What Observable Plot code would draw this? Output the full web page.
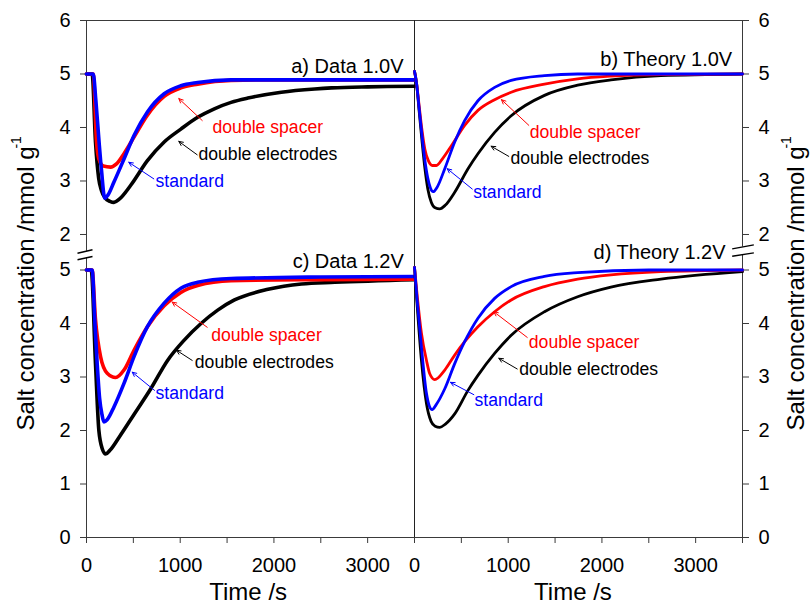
<!DOCTYPE html>
<html><head><meta charset="utf-8">
<script src="https://cdn.jsdelivr.net/npm/d3@7"></script>
<script src="https://cdn.jsdelivr.net/npm/@observablehq/plot@0.6"></script>
<style>
body{margin:0;background:#fff}
#chart svg{font-family:"Liberation Sans",Arial,sans-serif;display:block}
</style>
</head><body><div id="chart"></div>
<script>
// ---- layout constants of the broken/paneled axes (data units) ----
const OFF = 3.664;   // shift of the upper (1.0 V) half on the broken y axis
const SPAN = 3500;   // time span of each panel, s

const seriesNames = ["double electrodes", "double spacer", "standard"];
const seriesColors = ["#000000", "#ff0000", "#0000ff"];

// ---- a) Data 1.0V ----
const a_elec_t = [0, 60, 96, 130, 160, 200, 250, 293, 350, 472, 650, 829, 1007, 1186, 1364, 1543, 1722, 2079, 2436, 2615, 3000, 3500];
const a_elec_v = [5.0, 5.0, 3.73, 3.05, 2.82, 2.68, 2.62, 2.60, 2.66, 2.92, 3.38, 3.73, 3.97, 4.19, 4.35, 4.47, 4.55, 4.66, 4.72, 4.74, 4.76, 4.77];
const a_spac_t = [0, 72, 107, 130, 180, 257, 320, 400, 507, 650, 829, 1007, 1186, 1543, 2000, 3500];
const a_spac_v = [5.0, 5.0, 3.73, 3.42, 3.28, 3.26, 3.32, 3.51, 3.82, 4.23, 4.58, 4.74, 4.81, 4.88, 4.89, 4.89];
const a_std_t = [0, 72, 100, 134, 160, 195, 230, 293, 400, 507, 650, 829, 1007, 1186, 1543, 2000, 3500];
const a_std_v = [5.0, 5.0, 4.5, 3.73, 3.2, 2.68, 2.74, 2.98, 3.41, 3.85, 4.29, 4.63, 4.78, 4.84, 4.89, 4.89, 4.89];

// ---- b) Theory 1.0V ----
const b_elec_t = [0, 20, 50, 80, 110, 142, 180, 220, 270, 330, 429, 571, 677, 855, 1032, 1387, 1741, 2096, 2630, 3500];
const b_elec_v = [5.05, 4.85, 4.3, 3.75, 3.25, 2.85, 2.6, 2.5, 2.48, 2.55, 2.79, 3.23, 3.51, 3.91, 4.22, 4.60, 4.79, 4.89, 4.97, 5.0];
const b_spac_t = [0, 20, 50, 80, 110, 150, 190, 234, 300, 394, 535, 677, 855, 1032, 1387, 1741, 2096, 2630, 3500];
const b_spac_v = [5.05, 4.85, 4.4, 3.95, 3.6, 3.37, 3.29, 3.29, 3.42, 3.66, 4.04, 4.32, 4.52, 4.66, 4.81, 4.91, 4.96, 4.99, 5.0];
const b_std_t = [0, 20, 50, 80, 110, 140, 170, 199, 240, 323, 429, 535, 677, 855, 1032, 1387, 1741, 3500];
const b_std_v = [5.05, 4.85, 4.35, 3.85, 3.4, 3.07, 2.87, 2.80, 2.88, 3.23, 3.73, 4.13, 4.50, 4.75, 4.88, 4.97, 5.0, 5.0];

// ---- c) Data 1.2V ----
const c_elec_t = [0, 50, 96, 132, 170, 204, 250, 350, 507, 686, 865, 1043, 1222, 1400, 1579, 1937, 2294, 2650, 3500];
const c_elec_v = [5.0, 5.0, 3.25, 2.0, 1.65, 1.56, 1.63, 1.88, 2.3, 2.78, 3.31, 3.69, 4.00, 4.25, 4.44, 4.64, 4.74, 4.77, 4.82];
const c_spac_t = [0, 60, 96, 150, 221, 311, 400, 507, 650, 829, 1007, 1186, 1543, 2500, 3500];
const c_spac_v = [5.0, 5.0, 4.07, 3.38, 3.07, 2.99, 3.13, 3.50, 3.94, 4.33, 4.58, 4.71, 4.80, 4.82, 4.83];
const c_std_t = [0, 60, 90, 114, 140, 165, 186, 220, 293, 400, 507, 650, 829, 1007, 1186, 1543, 2500, 3500];
const c_std_v = [5.0, 5.0, 4.0, 3.25, 2.6, 2.3, 2.16, 2.2, 2.44, 2.88, 3.38, 3.94, 4.38, 4.66, 4.77, 4.84, 4.87, 4.88];

// ---- d) Theory 1.2V ----
const d_elec_t = [0, 30, 74, 128, 177, 220, 270, 330, 429, 571, 677, 855, 1032, 1387, 1741, 2096, 2630, 3500];
const d_elec_v = [5.05, 4.3, 3.31, 2.5, 2.17, 2.08, 2.06, 2.12, 2.31, 2.75, 3.03, 3.44, 3.78, 4.22, 4.50, 4.68, 4.83, 4.97];
const d_spac_t = [0, 30, 74, 128, 163, 216, 323, 429, 535, 677, 855, 1032, 1387, 1741, 2096, 2630, 3500];
const d_spac_v = [5.05, 4.5, 3.82, 3.31, 3.06, 2.95, 3.13, 3.41, 3.66, 3.94, 4.22, 4.44, 4.69, 4.83, 4.91, 4.97, 5.0];
const d_std_t = [0, 30, 74, 128, 160, 188, 230, 323, 429, 535, 677, 855, 1032, 1387, 1741, 2500, 3500];
const d_std_v = [5.05, 4.4, 3.56, 2.69, 2.45, 2.39, 2.48, 2.78, 3.25, 3.66, 4.10, 4.47, 4.69, 4.88, 4.95, 5.0, 5.0];

// ---- tick labels ----
const yTickValues = [0, 1, 2, 3, 4, 5];
const yTopTickValues = [2, 3, 4, 5, 6];
const xTickValues = [0, 500, 1000, 1500, 2000, 2500, 3000, 3500];
const xTickLabels = ["0", "", "1000", "", "2000", "", "3000", ""];

const panelTitles = [
  {panel: "a", text: "a) Data 1.0V", t: 3383, v: 5.14},
  {panel: "b", text: "b) Theory 1.0V", t: 3390, v: 5.26},
  {panel: "c", text: "c) Data 1.2V", t: 3386, v: 5.15},
  {panel: "d", text: "d) Theory 1.2V", t: 3319, v: 5.33}
];

// annotation anchors in panel (time, concentration) coordinates
const notes = [
  {panel:"a", s:1, text:"double spacer",     t:1345, v:4.00, t1:1235, v1:4.13, t2:985, v2:4.54},
  {panel:"a", s:0, text:"double electrodes", t:1195, v:3.49, t1:1181, v1:3.49, t2:985, v2:3.74},
  {panel:"a", s:2, text:"standard",          t:736,  v:2.99, t1:718,  v1:3.04, t2:451, v2:3.35},
  {panel:"b", s:1, text:"double spacer",     t:1230, v:3.90, t1:1220, v1:4.04, t2:928, v2:4.52},
  {panel:"b", s:0, text:"double electrodes", t:1024, v:3.43, t1:1006, v1:3.46, t2:818, v2:3.65},
  {panel:"b", s:2, text:"standard",          t:626,  v:2.78, t1:616,  v1:2.85, t2:349, v2:3.23},
  {panel:"c", s:1, text:"double spacer",     t:1331, v:3.78, t1:1288, v1:3.93, t2:914, v2:4.40},
  {panel:"c", s:0, text:"double electrodes", t:1156, v:3.27, t1:1128, v1:3.31, t2:960, v2:3.50},
  {panel:"c", s:2, text:"standard",          t:736,  v:2.70, t1:726,  v1:2.75, t2:488, v2:3.09},
  {panel:"d", s:1, text:"double spacer",     t:1220, v:3.64, t1:1203, v1:3.74, t2:846, v2:4.22},
  {panel:"d", s:0, text:"double electrodes", t:1117, v:3.14, t1:1096, v1:3.15, t2:900, v2:3.35},
  {panel:"d", s:2, text:"standard",          t:640,  v:2.56, t1:633,  v1:2.67, t2:384, v2:2.90}
];

// ---- build table ----
const panelShift = {a:[0, OFF], b:[SPAN, OFF], c:[0, 0], d:[SPAN, 0]};
const X = (p, t) => t + panelShift[p][0];
const Y = (p, v) => v + panelShift[p][1];
const curves = [
  ["a", 0, a_elec_t, a_elec_v], ["a", 1, a_spac_t, a_spac_v], ["a", 2, a_std_t, a_std_v],
  ["b", 0, b_elec_t, b_elec_v], ["b", 1, b_spac_t, b_spac_v], ["b", 2, b_std_t, b_std_v],
  ["c", 0, c_elec_t, c_elec_v], ["c", 1, c_spac_t, c_spac_v], ["c", 2, c_std_t, c_std_v],
  ["d", 0, d_elec_t, d_elec_v], ["d", 1, d_spac_t, d_spac_v], ["d", 2, d_std_t, d_std_v]
];
const rows = [];
for (const [p, s, ts, vs] of curves) {
  ts.forEach((t, i) => rows.push({x: X(p, t), y: Y(p, vs[i]), series: seriesNames[s], key: p + s, theory: p === "b" || p === "d"}));
}
const dataRows = rows.filter(d => !d.theory);
const theoryRows = rows.filter(d => d.theory);

const yTicks = [...yTickValues, ...yTopTickValues.map(v => v + OFF)];
const yFmt = d => d > 5.6 ? String(Math.round(d - OFF)) : String(d);
const xTicks = [...xTickValues, ...xTickValues.slice(1).map(v => v + SPAN)];
const xFmt = d => {
  if (d === SPAN) return "0";
  const local = d > SPAN ? d - SPAN : d;
  return xTickLabels[xTickValues.indexOf(local)];
};

const axisColor = "#3a3a3a";
const yTop = 6 + OFF;

const chart = Plot.plot({
  width: 811, height: 605,
  marginLeft: 86, marginRight: 69, marginTop: 20, marginBottom: 68,
  x: {domain: [0, 2 * SPAN]},
  y: {domain: [0, yTop]},
  color: {domain: seriesNames, range: seriesColors},
  style: {fontFamily: '"Liberation Sans", Arial, sans-serif', fontSize: "20px", color: "#000", background: "#fff"},
  marks: [
    // frame & broken axes
    Plot.ruleY([yTop], {x1: 0, x2: 2 * SPAN, stroke: axisColor}),
    Plot.ruleY([0], {x1: 0, x2: 2 * SPAN, stroke: axisColor}),
    Plot.ruleX([SPAN], {y1: 0, y2: yTop, stroke: "#222"}),
    Plot.ruleX([0], {y1: 5.35, y2: yTop, stroke: axisColor}),
    Plot.ruleX([0], {y1: 0, y2: 5.228, stroke: axisColor}),
    Plot.ruleX([2 * SPAN], {y1: 5.43, y2: yTop, stroke: axisColor}),
    Plot.ruleX([2 * SPAN], {y1: 0, y2: 5.29, stroke: axisColor}),
    Plot.link([
      {x1: -96, y1: 5.314, x2: 64, y2: 5.378},
      {x1: -96, y1: 5.191, x2: 64, y2: 5.252},
      {x1: 6890, y1: 5.396, x2: 7121, y2: 5.471},
      {x1: 6890, y1: 5.258, x2: 7121, y2: 5.321}
    ], {x1: "x1", y1: "y1", x2: "x2", y2: "y2", stroke: "#000", strokeWidth: 1.4}),
    // axes
    Plot.axisY({anchor: "left", ticks: yTicks, tickFormat: yFmt, tickSize: 6, tickPadding: 10, stroke: axisColor, fontSize: 20, label: null}),
    Plot.axisY({anchor: "right", ticks: yTicks, tickFormat: yFmt, tickSize: 6, tickPadding: 10, stroke: axisColor, fontSize: 20, label: null}),
    Plot.axisX({anchor: "bottom", ticks: xTicks, tickFormat: xFmt, tickSize: 6, tickPadding: 14, stroke: axisColor, fontSize: 20, label: null}),
    // curves
    Plot.line(dataRows, {x: "x", y: "y", z: "key", stroke: "series", strokeWidth: 3.6, curve: "monotone-x", strokeLinejoin: "round"}),
    Plot.line(theoryRows, {x: "x", y: "y", z: "key", stroke: "series", strokeWidth: 2.8, curve: "monotone-x", strokeLinejoin: "round"}),
    // annotations
    Plot.arrow(notes, {x1: d => X(d.panel, d.t1), y1: d => Y(d.panel, d.v1), x2: d => X(d.panel, d.t2), y2: d => Y(d.panel, d.v2),
      stroke: d => seriesNames[d.s], strokeWidth: 1, headLength: 7, headAngle: 50}),
    Plot.text(notes, {x: d => X(d.panel, d.t), y: d => Y(d.panel, d.v), text: "text", fill: d => seriesNames[d.s], textAnchor: "start", fontSize: 17.6}),
    Plot.text(panelTitles, {x: d => X(d.panel, d.t), y: d => Y(d.panel, d.v), text: "text", textAnchor: "end", fontSize: 20, fill: "#000"}),
    // axis titles
    Plot.text(["Time /s"], {x: 1725, y: 0, dy: 55, fontSize: 24, fill: "#000"}),
    Plot.text(["Time /s"], {x: 5191, y: 0, dy: 55, fontSize: 24, fill: "#000"}),
    Plot.text(["Salt concentration /mmol g"], {x: 0, y: 2.0, dx: -60, rotate: -90, textAnchor: "start", fontSize: 24, fill: "#000"}),
    Plot.text(["-1"], {x: 0, y: 7.27, dx: -70, rotate: -90, textAnchor: "start", fontSize: 14, fill: "#000"}),
    Plot.text(["Salt concentration /mmol g"], {x: 2 * SPAN, y: 2.0, dx: 54, rotate: -90, textAnchor: "start", fontSize: 24, fill: "#000"}),
    Plot.text(["-1"], {x: 2 * SPAN, y: 7.27, dx: 44, rotate: -90, textAnchor: "start", fontSize: 14, fill: "#000"})
  ]
});
document.getElementById("chart").appendChild(chart);
</script>
</body></html>
